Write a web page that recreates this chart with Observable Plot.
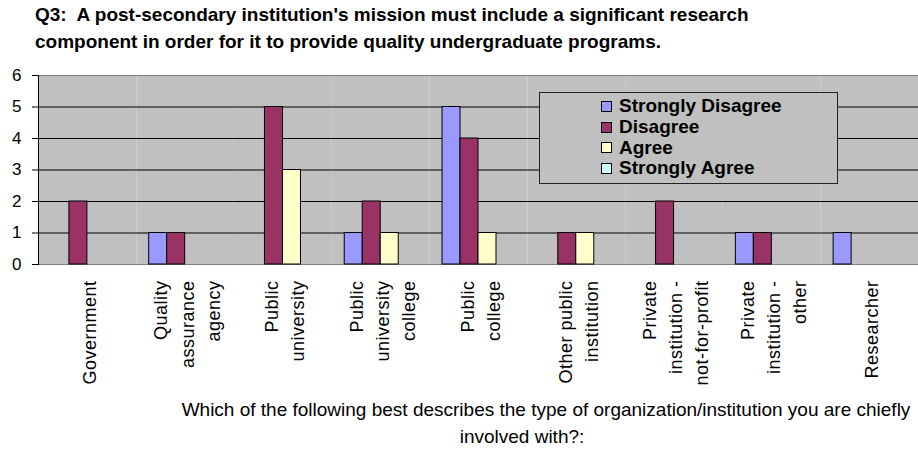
<!DOCTYPE html>
<html>
<head>
<meta charset="utf-8">
<script src="https://cdn.jsdelivr.net/npm/d3@7"></script>
<script src="https://cdn.jsdelivr.net/npm/@observablehq/plot@0.6"></script>
<style>
  html, body { margin: 0; padding: 0; background: #fff; }
  #fig { position: relative; width: 918px; height: 450px; font-family: "Liberation Sans", Arial, sans-serif; overflow: hidden; }
  #fig svg { position: absolute; left: 0; top: 0; }
  #title { position: absolute; left: 35px; top: 1px; font-weight: bold; font-size: 19px; line-height: 27px; color: #000; white-space: nowrap; }
  #xtitle { position: absolute; left: 0; top: 396px; width: 918px; font-size: 19px; line-height: 27px; color: #000; white-space: nowrap; }
  #xtitle div { position: absolute; transform: translateX(-50%); }
  #legend { position: absolute; left: 539px; top: 92px; width: 299px; height: 92px; box-sizing: border-box; border: 1px solid #222; background: #c0c0c0; padding-top: 3px; padding-left: 61px; }
  #legend .row { display: flex; align-items: center; height: 20.7px; font-weight: bold; font-size: 19px; white-space: nowrap; }
  #legend .sw { width: 11px; height: 11px; box-sizing: border-box; border: 1px solid #000; margin-right: 7px; flex: none; }
  g[aria-label="fx-axis tick label"] text { letter-spacing: 0.5px; }
</style>
</head>
<body>
<div id="fig">
  <div id="title">Q3:&nbsp; A post-secondary institution's mission must include a significant research<br>component in order for it to provide quality undergraduate programs.</div>
  <div id="xtitle"></div>
  <div id="legend"></div>
</div>
<script>
const categories = [
  "Government",
  "Quality\nassurance\nagency",
  "Public\nuniversity",
  "Public\nuniversity\ncollege",
  "Public\ncollege",
  "Other public\ninstitution",
  "Private\ninstitution -\nnot-for-profit",
  "Private\ninstitution -\nother",
  "Researcher"
];
const series = ["Strongly Disagree", "Disagree", "Agree", "Strongly Agree"];
const colors = ["#9999ff", "#993366", "#ffffcc", "#ccffff"];
const stronglyDisagree = [0, 1, 0, 1, 5, 0, 0, 1, 1];
const disagree         = [2, 1, 5, 2, 4, 1, 2, 1, 0];
const agree            = [0, 0, 3, 1, 1, 1, 0, 0, 0];
const stronglyAgree    = [0, 0, 0, 0, 0, 0, 0, 0, 0];
const yTicks = [0, 1, 2, 3, 4, 5, 6];
const xTitleLines = [
  "Which of the following best describes the type of organization/institution you are chiefly",
  "involved with?:"
];

const valuesBySeries = [stronglyDisagree, disagree, agree, stronglyAgree];
const data = [];
categories.forEach((c, i) => {
  series.forEach((s, j) => {
    const v = valuesBySeries[j][i];
    if (v > 0) data.push({category: c, series: s, value: v});
  });
});

const chart = Plot.plot({
  width: 918,
  height: 450,
  marginTop: 75,
  marginBottom: 186,
  marginLeft: 38,
  marginRight: 0,
  style: {fontFamily: "'Liberation Sans', Arial, sans-serif", background: "transparent"},
  fx: {domain: categories, paddingInner: 0, paddingOuter: 0, round: false},
  x: {domain: series, paddingInner: 0, paddingOuter: 0.717, round: false, axis: null},
  y: {domain: [0, 6]},
  color: {domain: series, range: colors},
  marks: [
    Plot.frame({fill: "#c0c0c0", stroke: "none"}),
    Plot.gridY([1, 2, 3, 4, 5], {stroke: "#000", strokeOpacity: 1}),
    Plot.frame({anchor: "top", stroke: "#808080"}),
    Plot.frame({anchor: "bottom", stroke: "#808080"}),
    Plot.frame({anchor: "left", stroke: "#000", facetAnchor: "left"}),
    Plot.barY(data, {fx: "category", x: "series", y: "value", fill: "series", stroke: "#000", strokeWidth: 1}),
    Plot.axisY(yTicks, {anchor: "left", label: null, tickSize: 6, tickPadding: 11, fontSize: 17, tickFormat: d => String(d), stroke: "#000"}),
    Plot.axisFx({anchor: "bottom", label: null, tickSize: 0, tickPadding: 16, tickRotate: -90, textAnchor: "end", lineAnchor: "middle", lineHeight: 1.45, fontSize: 18, fill: "#000"})
  ]
});
document.getElementById("fig").prepend(chart);

const xt = document.getElementById("xtitle");
const xtCenters = [546, 522];
xTitleLines.forEach((t, i) => {
  const d = document.createElement("div");
  d.textContent = t;
  d.style.left = xtCenters[i] + "px";
  d.style.top = (i * 27) + "px";
  xt.appendChild(d);
});

const lg = document.getElementById("legend");
series.forEach((s, i) => {
  const row = document.createElement("div");
  row.className = "row";
  const sw = document.createElement("div");
  sw.className = "sw";
  sw.style.background = colors[i];
  row.appendChild(sw);
  row.appendChild(document.createTextNode(s));
  lg.appendChild(row);
});
</script>
</body>
</html>
